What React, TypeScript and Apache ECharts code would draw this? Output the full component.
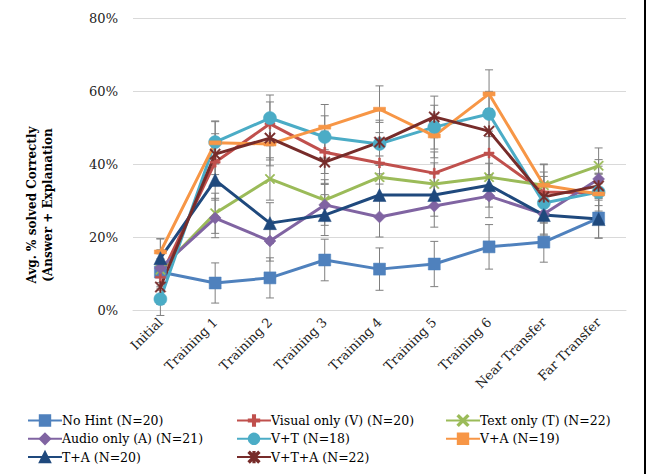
import React, { useEffect, useRef } from "react";
import * as echarts from "echarts";

const categories = [
  "Initial",
  "Training 1",
  "Training 2",
  "Training 3",
  "Training 4",
  "Training 5",
  "Training 6",
  "Near Transfer",
  "Far Transfer",
];
const yTicks = [0, 20, 40, 60, 80];

const noHint = [10.4, 7.4, 8.8, 13.7, 11.2, 12.6, 17.3, 18.6, 25.2];
const visualOnly = [9.0, 40.5, 51.0, 43.2, 40.3, 37.5, 43.0, 32.3, 32.0];
const textOnly = [11.0, 26.5, 35.9, 30.1, 36.4, 34.5, 36.4, 34.2, 39.5];
const audioOnly = [11.5, 25.2, 18.9, 28.8, 25.5, 28.5, 31.2, 26.3, 35.9];
const vPlusT = [3.0, 46.0, 52.6, 47.4, 45.5, 50.1, 53.7, 29.3, 32.3];
const vPlusA = [15.9, 45.8, 45.5, 50.1, 55.0, 47.7, 59.2, 34.2, 31.8];
const tPlusA = [14.2, 35.6, 23.8, 26.0, 31.5, 31.5, 34.2, 26.0, 24.9];
const vPlusTPlusA = [6.3, 42.7, 47.1, 40.5, 46.0, 52.9, 49.0, 31.0, 34.0];

const noHintErr = [5.0, 5.5, 5.5, 5.7, 5.8, 6.2, 6.1, 5.5, 5.5];
const visualOnlyErr = [5.0, 5.5, 6.0, 5.8, 5.8, 5.8, 6.0, 5.5, 5.3];
const textOnlyErr = [5.0, 5.5, 5.8, 5.6, 5.8, 5.8, 6.0, 5.6, 4.9];
const audioOnlyErr = [5.0, 5.4, 5.5, 5.6, 5.5, 5.8, 5.9, 5.5, 5.3];
const vPlusTErr = [4.5, 5.8, 6.3, 5.8, 5.9, 6.0, 6.2, 5.5, 5.2];
const vPlusAErr = [3.6, 5.8, 6.0, 6.2, 6.4, 6.0, 6.6, 5.8, 5.4];
const tPlusAErr = [5.3, 5.5, 5.6, 5.6, 5.8, 5.8, 6.0, 5.5, 5.2];
const vPlusTPlusAErr = [4.8, 5.6, 6.0, 5.8, 6.0, 5.7, 6.2, 5.6, 5.4];

const seriesNames = [
  "No Hint (N=20)",
  "Visual only (V) (N=20)",
  "Text only (T) (N=22)",
  "Audio only (A) (N=21)",
  "V+T (N=18)",
  "V+A (N=19)",
  "T+A (N=20)",
  "V+T+A (N=22)",
];

const PLUS =
  "path://M4,0 L6,0 L6,4 L10,4 L10,6 L6,6 L6,10 L4,10 L4,6 L0,6 L0,4 L4,4 Z";
const CROSS =
  "path://M0,1 L1,0 L5,4 L9,0 L10,1 L6,5 L10,9 L9,10 L5,6 L1,10 L0,9 L4,5 Z";
const DASH = "path://M0,0 L10,0 L10,3 L0,3 Z";
const ASTER =
  "path://M0,1 L1,0 L4.4,3.4 L4.4,0 L5.6,0 L5.6,3.4 L9,0 L10,1 L6.4,4.6 L6.4,5.4 L10,9 L9,10 L5.6,6.6 L5.6,10 L4.4,10 L4.4,6.6 L1,10 L0,9 L3.6,5.4 L3.6,4.6 Z";

const FONT = "DejaVu Serif";

export default function App() {
  const ref = useRef<HTMLDivElement>(null);

  useEffect(() => {
    if (!ref.current) return;
    const chart = echarts.init(ref.current, undefined, { renderer: "svg" });

    const defs = [
      { name: seriesNames[0], data: noHint, err: noHintErr, color: "#4F81BD", symbol: "rect", size: 12 },
      { name: seriesNames[1], data: visualOnly, err: visualOnlyErr, color: "#C0504D", symbol: PLUS, size: 10 },
      { name: seriesNames[2], data: textOnly, err: textOnlyErr, color: "#9BBB59", symbol: CROSS, size: 10 },
      { name: seriesNames[3], data: audioOnly, err: audioOnlyErr, color: "#8064A2", symbol: "diamond", size: 12 },
      { name: seriesNames[4], data: vPlusT, err: vPlusTErr, color: "#4BACC6", symbol: "circle", size: 13 },
      { name: seriesNames[5], data: vPlusA, err: vPlusAErr, color: "#F79646", symbol: DASH, size: [12, 4] },
      { name: seriesNames[6], data: tPlusA, err: tPlusAErr, color: "#1F497D", symbol: "triangle", size: 13 },
      { name: seriesNames[7], data: vPlusTPlusA, err: vPlusTPlusAErr, color: "#772C2A", symbol: ASTER, size: 11 },
    ];

    const series: any[] = [];
    defs.forEach((d) => {
      series.push({
        type: "custom",
        name: d.name + " error",
        silent: true,
        encode: { x: 0, y: [1, 2] },
        data: d.data.map((v, i) => [i, v - d.err[i], v + d.err[i]]),
        renderItem: (params: any, api: any) => {
          const x = api.value(0);
          const lo = api.coord([x, api.value(1)]);
          const hi = api.coord([x, api.value(2)]);
          const w = 4;
          const st = { stroke: "#7F7F7F", lineWidth: 1 };
          return {
            type: "group",
            children: [
              { type: "line", shape: { x1: lo[0], y1: lo[1], x2: hi[0], y2: hi[1] }, style: st },
              { type: "line", shape: { x1: lo[0] - w, y1: lo[1], x2: lo[0] + w, y2: lo[1] }, style: st },
              { type: "line", shape: { x1: hi[0] - w, y1: hi[1], x2: hi[0] + w, y2: hi[1] }, style: st },
            ],
          };
        },
      });
      series.push({
        type: "line",
        name: d.name,
        data: d.data,
        symbol: d.symbol,
        symbolSize: d.size,
        showAllSymbol: true,
        lineStyle: { color: d.color, width: 3 },
        itemStyle: { color: d.color, borderColor: d.color, borderWidth: 0.5 },
        emphasis: { disabled: true },
      });
    });

    const legendBase = {
      orient: "vertical",
      top: 409,
      itemWidth: 34,
      itemHeight: 13,
      itemGap: 5.3,
      selectedMode: false,
      textStyle: { fontFamily: FONT, fontSize: 12.5, color: "#000", padding: [0, 0, 0, -5] },
    };

    chart.setOption({
      animation: false,
      backgroundColor: "#fff",
      grid: { left: 133, right: 24, top: 18, bottom: 164, containLabel: false },
      xAxis: {
        type: "category",
        data: categories,
        boundaryGap: true,
        axisLine: { lineStyle: { color: "#D9D9D9", width: 1 } },
        axisTick: { show: false },
        axisLabel: {
          rotate: 45,
          interval: 0,
          margin: 10,
          fontFamily: FONT,
          fontSize: 13,
          color: "#222",
        },
      },
      yAxis: {
        type: "value",
        min: yTicks[0],
        max: yTicks[yTicks.length - 1],
        interval: 20,
        axisLine: { show: false },
        axisTick: { show: false },
        splitLine: { lineStyle: { color: "#D9D9D9", width: 1 } },
        axisLabel: {
          formatter: "{value}%",
          fontFamily: FONT,
          fontSize: 13,
          color: "#222",
          margin: 15,
        },
      },
      legend: [
        { ...legendBase, left: 22, data: [seriesNames[0], seriesNames[3], seriesNames[6]] },
        { ...legendBase, left: 231, data: [seriesNames[1], seriesNames[4], seriesNames[7]] },
        { ...legendBase, left: 440, data: [seriesNames[2], seriesNames[5]] },
      ],
      graphic: [
        {
          type: "text",
          x: 40,
          y: 205,
          rotation: Math.PI / 2,
          style: {
            text: "Avg. % solved Correctly\n(Answer + Explanation",
            fontFamily: FONT,
            fontWeight: "bold",
            fontSize: 12,
            lineHeight: 16,
            fill: "#000",
            textAlign: "center",
            textVerticalAlign: "middle",
          },
        },
        {
          type: "line",
          shape: { x1: 645, y1: 0, x2: 645, y2: 474 },
          style: { stroke: "#000", lineWidth: 2 },
        },
      ],
      series,
    });

    return () => chart.dispose();
  }, []);

  return (
    <div
      ref={ref}
      style={{ position: "absolute", left: 0, top: 0, width: 650, height: 474 }}
    />
  );
}
